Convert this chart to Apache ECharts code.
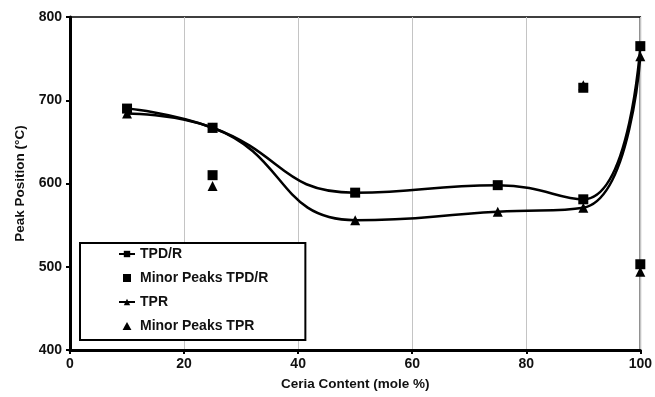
<!DOCTYPE html>
<html>
<head>
<meta charset="utf-8">
<script src="https://cdn.jsdelivr.net/npm/echarts@6/dist/echarts.min.js"></script>
<style>
html,body{margin:0;padding:0;background:#fff;}
#chart{width:655px;height:397px;}
</style>
</head>
<body>
<div id="chart"></div>
<script>
// Peak positions (°C) versus ceria content (mole %)
const ceria = [10, 25, 50, 75, 90, 100];
const tpdr = [690, 667, 589, 598, 581, 765];
const tpr = [684, 667, 556, 566, 571, 753];

const minorTpdrX = [25, 90, 100];
const minorTpdrY = [610, 715, 503];
const minorTprX = [25, 90, 100];
const minorTprY = [597, 718, 494];

const pairs = (xs, ys) => xs.map((x, i) => [x, ys[i]]);

const font = 'Liberation Sans, Arial, sans-serif';
const squareIcon = 'path://M0,0H10V10H0Z';
const triangleIcon = 'path://M5,0L10,9H0Z';

const chart = echarts.init(document.getElementById('chart'));
chart.setOption({
  animation: false,
  backgroundColor: '#fff',
  grid: { left: 70, right: 14, top: 17, bottom: 47, show: true, borderColor: '#000', borderWidth: 1.5 },
  xAxis: {
    type: 'value', min: 0, max: 100, interval: 20,
    name: 'Ceria Content (mole %)', nameLocation: 'middle', nameGap: 27,
    nameTextStyle: { fontFamily: font, fontWeight: 'bold', fontSize: 13.5, color: '#111' },
    axisLine: { lineStyle: { color: '#000', width: 3 } },
    axisTick: { show: true, length: 4, lineStyle: { color: '#000', width: 2 } },
    axisLabel: { fontFamily: font, fontWeight: 'bold', fontSize: 14, color: '#111', margin: 7 },
    splitLine: { show: true, lineStyle: { color: '#c4c4c4', width: 1 } }
  },
  yAxis: {
    type: 'value', min: 400, max: 800, interval: 100,
    name: 'Peak Position (°C)', nameLocation: 'middle', nameGap: 43,
    nameTextStyle: { fontFamily: font, fontWeight: 'bold', fontSize: 13.5, color: '#111' },
    axisLine: { show: true, lineStyle: { color: '#000', width: 3 } },
    axisTick: { show: true, length: 4, lineStyle: { color: '#000', width: 2 } },
    axisLabel: { fontFamily: font, fontWeight: 'bold', fontSize: 14, color: '#111', margin: 8 },
    splitLine: { show: false }
  },
  legend: {
    orient: 'vertical', left: 80, top: 243,
    padding: [4, 37, 7, 38],
    itemGap: 10,
    itemWidth: 16, itemHeight: 8,
    borderColor: '#000', borderWidth: 2,
    backgroundColor: '#fff',
    textStyle: { fontFamily: font, fontWeight: 'bold', fontSize: 14, color: '#111' },
    data: [
      { name: 'TPD/R' },
      { name: 'Minor Peaks TPD/R', icon: squareIcon },
      { name: 'TPR' },
      { name: 'Minor Peaks TPR', icon: triangleIcon }
    ]
  },
  series: [
    {
      name: 'TPD/R', type: 'line', smooth: 0.5,
      data: pairs(ceria, tpdr),
      symbol: 'rect', symbolSize: 10,
      lineStyle: { color: '#000', width: 2.5 },
      itemStyle: { color: '#000' }
    },
    {
      name: 'TPR', type: 'line', smooth: 0.5,
      data: pairs(ceria, tpr),
      symbol: 'triangle', symbolSize: 10,
      lineStyle: { color: '#000', width: 2.5 },
      itemStyle: { color: '#000' }
    },
    {
      name: 'Minor Peaks TPR', type: 'scatter',
      data: pairs(minorTprX, minorTprY),
      symbol: 'triangle', symbolSize: 10,
      itemStyle: { color: '#000', opacity: 1 }
    },
    {
      name: 'Minor Peaks TPD/R', type: 'scatter',
      data: pairs(minorTpdrX, minorTpdrY),
      symbol: 'rect', symbolSize: 10,
      itemStyle: { color: '#000', opacity: 1 }
    }
  ]
});
</script>
</body>
</html>
